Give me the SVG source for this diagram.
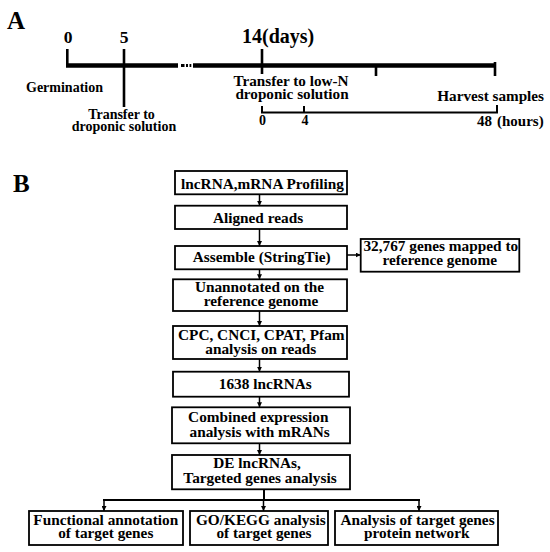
<svg xmlns="http://www.w3.org/2000/svg" width="550" height="552" viewBox="0 0 550 552">
<defs>
<style>
text{font-family:"Liberation Serif","Times New Roman",serif;font-weight:bold;fill:#000}
.f{font-size:15.3px;text-anchor:middle}
.tl{font-size:14px;text-anchor:middle}
.tr{font-size:15.2px}
.box{fill:#fff;stroke:#000;stroke-width:1.8}
.ln{stroke:#000;stroke-width:1.5;fill:none}
.thick{stroke:#000;stroke-width:4.4;fill:none}
.tick{stroke:#000;stroke-width:2.6;fill:none}
.thin{stroke:#000;stroke-width:2;fill:none}
</style>
<marker id="ah" viewBox="0 0 6 6" refX="6" refY="3" markerWidth="5" markerHeight="5" markerUnits="userSpaceOnUse" orient="auto">
<path d="M0,0 L6,3 L0,6 z" fill="#000"/>
</marker>
</defs>
<rect width="550" height="552" fill="#fff"/>

<g id="panelA">
<text x="7" y="29" style="font-size:25px">A</text>
<text x="68" y="43" style="font-size:17.5px;text-anchor:middle">0</text>
<text x="124" y="43" style="font-size:17.5px;text-anchor:middle">5</text>
<text x="242" y="43" style="font-size:20px">14(days)</text>
<path class="thick" d="M66,65.5 H178 M193,65.5 H496"/>
<path d="M181,64 h3.5 v3 h-3.5z M186,64 h2 v3 h-2z M189.5,64 h1.8 v3 h-1.8z" fill="#000"/>
<path class="tick" d="M67.3,49 V67 M124,49 V107 M262,49 V74 M376,65 V76 M495,62 V76"/>
<text class="tl" x="64.5" y="92">Germination</text>
<text class="tl" x="121.5" y="118.5">Transfer to</text>
<text class="tl" x="124" y="130.5">droponic solution</text>
<text class="tr" x="291" y="86" style="text-anchor:middle">Transfer to low-N</text>
<text class="tr" x="292" y="99" style="text-anchor:middle">droponic solution</text>
<text class="tr" x="544" y="100.5" style="text-anchor:end">Harvest samples</text>
<path class="thin" d="M262,106 V112.5 H497 V105 M304,106 V112.5"/>
<text x="262.5" y="125" style="font-size:14px;text-anchor:middle">0</text>
<text x="305" y="125" style="font-size:14px;text-anchor:middle">4</text>
<text y="126" style="font-size:15px"><tspan x="477">48</tspan> <tspan x="497">(hours)</tspan></text>
</g>

<g id="panelB-label">
<text x="13" y="192" style="font-size:25px">B</text>
</g>

<g id="connectors">
<path class="ln" marker-end="url(#ah)" d="M259.5,194 V205.7"/>
<path class="ln" marker-end="url(#ah)" d="M259.5,229 V246"/>
<path class="ln" marker-end="url(#ah)" d="M259.5,269.3 V279.3"/>
<path class="ln" marker-end="url(#ah)" d="M259.5,311 V326"/>
<path class="ln" marker-end="url(#ah)" d="M259.5,359 V371.7"/>
<path class="ln" marker-end="url(#ah)" d="M259.5,396.7 V407.3"/>
<path class="ln" marker-end="url(#ah)" d="M259.5,443.3 V455"/>
<path class="ln" marker-end="url(#ah)" d="M347,255 H360.7"/>
<path class="thin" d="M264,489.3 V500 M103,500 H420"/>
<path class="ln" marker-end="url(#ah)" d="M104,500 V511"/>
<path class="ln" marker-end="url(#ah)" d="M263.5,500 V511"/>
<path class="ln" marker-end="url(#ah)" d="M419,500 V511"/>
</g>

<g id="n1"><rect class="box" x="175" y="171" width="172" height="23.3"/>
<text class="f" x="262.5" y="188.5">lncRNA,mRNA Profiling</text></g>
<g id="n2"><rect class="box" x="175" y="205.7" width="172" height="23.3"/>
<text class="f" x="258" y="222.5">Aligned reads</text></g>
<g id="n3"><rect class="box" x="175" y="246" width="172" height="23.3"/>
<text class="f" x="261.7" y="262">Assemble (StringTie)</text></g>
<g id="n3b"><rect class="box" x="360.7" y="239" width="158.6" height="32.7"/>
<text class="f" x="440.8" y="251">32,767 genes mapped to</text>
<text class="f" x="439.7" y="265">reference genome</text></g>
<g id="n4"><rect class="box" x="173" y="279.3" width="174" height="31.7"/>
<text class="f" x="259.5" y="292">Unannotated on the</text>
<text class="f" x="261" y="305.5">reference genome</text></g>
<g id="n5"><rect class="box" x="173" y="326" width="174" height="33"/>
<text class="f" x="261.3" y="340">CPC, CNCI, CPAT, Pfam</text>
<text class="f" x="260.8" y="353.5">analysis on reads</text></g>
<g id="n6"><rect class="box" x="173" y="371.7" width="176" height="25"/>
<text class="f" x="265.3" y="389.3">1638 lncRNAs</text></g>
<g id="n7"><rect class="box" x="172" y="407.3" width="178" height="36"/>
<text class="f" x="258.3" y="421.7">Combined expression</text>
<text class="f" x="259.7" y="436.7">analysis with mRANs</text></g>
<g id="n8"><rect class="box" x="172" y="455" width="178" height="34.3"/>
<text class="f" x="213.3" y="468.3" style="text-anchor:start">DE lncRNAs,</text>
<text class="f" x="260" y="483.3">Targeted genes analysis</text></g>
<g id="n9"><rect class="box" x="29" y="511" width="154" height="34"/>
<text class="f" x="105.8" y="525">Functional annotation</text>
<text class="f" x="105.8" y="538.3">of target genes</text></g>
<g id="n10"><rect class="box" x="190" y="511" width="138" height="34"/>
<text class="f" x="260.8" y="525">GO/KEGG analysis</text>
<text class="f" x="264" y="538.3">of target genes</text></g>
<g id="n11"><rect class="box" x="335" y="511" width="163" height="34"/>
<text class="f" x="417.5" y="525">Analysis of target genes</text>
<text class="f" x="416.7" y="538.3">protein network</text></g>
</svg>
